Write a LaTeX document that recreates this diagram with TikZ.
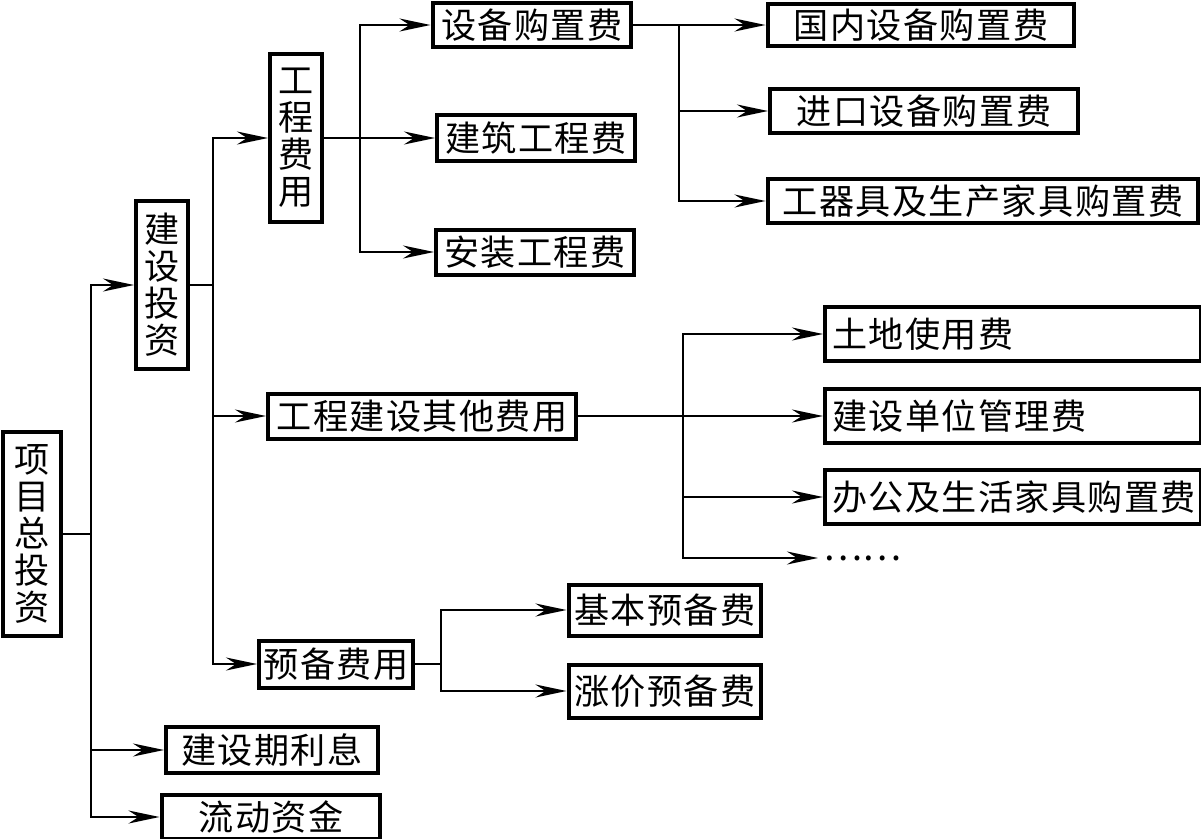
\documentclass[tikz,border=0pt]{standalone}
\usepackage{fontspec}
\newfontfamily\cjk[LetterSpace=4]{Noto Sans CJK SC}
\newfontfamily\cjkv{Noto Sans CJK SC}
\usetikzlibrary{arrows.meta}

\begin{document}
\begin{tikzpicture}[x=0.02cm,y=-0.02cm,
  box/.style={draw, line width=0.08cm, inner sep=0pt, font=\cjk\fontsize{20}{22}\selectfont},
  vbox/.style={draw, line width=0.08cm, inner sep=0pt, align=center, font=\cjkv\fontsize{20}{21}\selectfont},
  lbox/.style={box, anchor=west, text width=7.24cm, inner xsep=0.14cm, align=left},
  arr/.style={line width=0.045cm, -{Stealth[length=0.62cm,width=0.26cm,inset=0.2cm]}},
  ln/.style={line width=0.045cm}]
\useasboundingbox (0,0) rectangle (1201,839);
\node [vbox, minimum width=1.16cm, minimum height=4.1cm] (xmztz) at (32,534) {项\\目\\总\\投\\资};
\node [vbox, minimum width=1.04cm, minimum height=3.38cm] (jstz) at (162,285) {建\\设\\投\\资};
\node [vbox, minimum width=1.04cm, minimum height=3.38cm] (gcfy) at (296,138) {工\\程\\费\\用};
\node [box, minimum width=3.98cm, minimum height=0.9cm] (sbgzf) at (532,25) {设备购置费};
\node [box, minimum width=3.96cm, minimum height=0.92cm] (jzgcf) at (536,138) {建筑工程费};
\node [box, minimum width=3.96cm, minimum height=0.9cm] (azgcf) at (535,252) {安装工程费};
\node [box, minimum width=6.14cm, minimum height=0.86cm] (gnsb) at (921,25) {国内设备购置费};
\node [box, minimum width=6.16cm, minimum height=0.88cm] (jksb) at (924,111) {进口设备购置费};
\node [box, minimum width=8.62cm, minimum height=0.88cm] (gqj) at (983,201) {工器具及生产家具购置费};
\node [box, minimum width=6.16cm, minimum height=0.9cm] (qtfy) at (422,416) {工程建设其他费用};
\node [lbox, minimum height=1.08cm] (tdsy) at (823,334) {土地使用费};
\node [lbox, minimum height=1.08cm] (jsdw) at (823,416) {建设单位管理费};
\node [lbox, minimum height=1.08cm] (bgjj) at (823,497) {办公及生活家具购置费};
\node [anchor=west, inner sep=0.1cm, font=\cjkv\fontsize{21}{22}\selectfont] (sl) at (818,558) {……};
\node [box, minimum width=3.86cm, minimum height=1.02cm] (jbyb) at (665,610) {基本预备费};
\node [box, minimum width=3.86cm, minimum height=1.06cm] (zjyb) at (665,691) {涨价预备费};
\node [box, minimum width=3.08cm, minimum height=0.94cm] (ybfy) at (336,664) {预备费用};
\node [box, minimum width=4.24cm, minimum height=0.92cm] (jsqlx) at (272,750) {建设期利息};
\node [box, minimum width=4.38cm, minimum height=0.88cm] (ldzj) at (271,817) {流动资金};
\coordinate (ka) at (91,534);
\draw [ln] (xmztz.east) -- (ka);
\draw [arr] (ka) |- (jstz.west);
\draw [arr] (ka) |- (jsqlx.west);
\draw [arr] (ka) |- (ldzj.west);
\coordinate (kb) at (213,285);
\draw [ln] (jstz.east) -- (kb);
\draw [arr] (kb) |- (gcfy.west);
\draw [arr] (kb) |- (qtfy.west);
\draw [arr] (kb) |- (ybfy.west);
\coordinate (kc) at (360,138);
\draw [arr] (gcfy.east) -- (jzgcf.west);
\draw [arr] (kc) |- (sbgzf.west);
\draw [arr] (kc) |- (azgcf.west);
\coordinate (kd) at (679,25);
\draw [arr] (sbgzf.east) -- (gnsb.west);
\draw [arr] (kd) |- (jksb.west);
\draw [arr] (kd) |- (gqj.west);
\coordinate (ke) at (683,416);
\draw [arr] (qtfy.east) -- (jsdw.west);
\draw [arr] (ke) |- (tdsy.west);
\draw [arr] (ke) |- (bgjj.west);
\draw [arr] (ke) |- (sl.west);
\coordinate (kf) at (441,664);
\draw [ln] (ybfy.east) -- (kf);
\draw [arr] (kf) |- (jbyb.west);
\draw [arr] (kf) |- (zjyb.west);
\end{tikzpicture}
\end{document}
